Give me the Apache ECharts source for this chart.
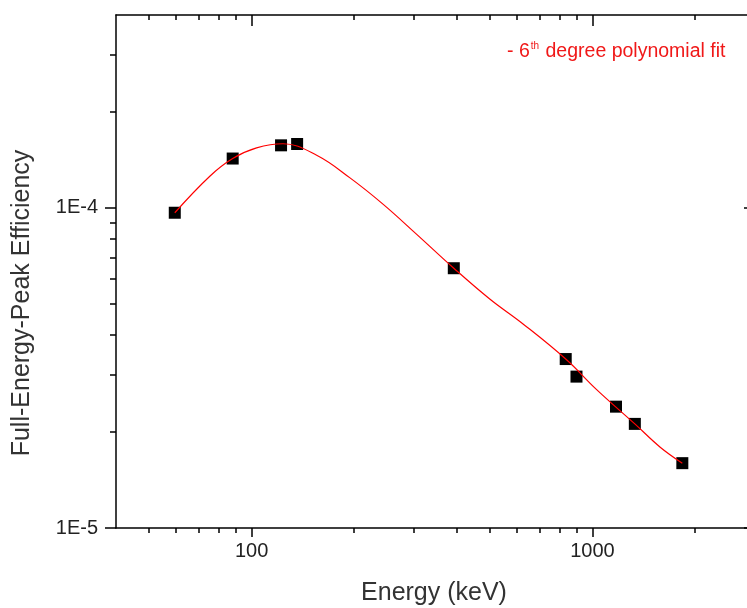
<!DOCTYPE html>
<html>
<head>
<meta charset="utf-8">
<script src="https://cdn.jsdelivr.net/npm/echarts@6/dist/echarts.min.js"></script>
<style>
  html, body { margin: 0; padding: 0; background: #fff; }
  #chart { width: 747px; height: 608px; }
</style>
</head>
<body>
<div id="chart"></div>
<script>
// measured points: gamma energy (keV) and full-energy-peak efficiency
const energies = [59.5, 88, 122, 136, 392, 835, 898, 1173, 1332, 1836];
const efficiencies = [9.65e-5, 1.425e-4, 1.567e-4, 1.582e-4, 6.475e-5, 3.37e-5, 2.97e-5, 2.393e-5, 2.114e-5, 1.594e-5];

// 6th degree polynomial fit
const fitEnergies = [59.5, 75.4, 88, 103.4, 123.6, 155.2, 194.4, 243.4, 305.1, 392, 500.8, 627.2, 835, 1029, 1332, 1581, 1836];
const fitEff = [9.65e-5, 1.255e-4, 1.425e-4, 1.538e-4, 1.585e-4, 1.459e-4, 1.240e-4, 1.025e-4, 8.26e-5, 6.475e-5,
  5.18e-5, 4.33e-5, 3.37e-5, 2.705e-5, 2.114e-5, 1.788e-5, 1.594e-5];

// tick values
const xMajor = [100, 1000];
const xMinor = [50, 60, 70, 80, 90, 200, 300, 400, 500, 600, 700, 800, 900, 2000];
const yMajor = [1e-5, 1e-4];
const yMinor = [2e-5, 3e-5, 4e-5, 5e-5, 6e-5, 7e-5, 8e-5, 9e-5, 2e-4, 3e-4];

const FONT = '"Liberation Sans", Arial, sans-serif';
const xRange = { min: 40, max: 3000 };
const yRange = { min: 1e-5, max: 4e-4 };

// one log axis; major and minor ticks live on separate overlapping axes
const logAxis = (range, position, ticks, len, inside, showLine, label) => ({
  type: 'log',
  logBase: 10,
  position: position,
  min: range.min,
  max: range.max,
  axisLine: { show: showLine, lineStyle: { color: '#000', width: 1.5 } },
  axisTick: { show: true, inside: inside, length: len, customValues: ticks, lineStyle: { color: '#000', width: 1.5 } },
  axisLabel: label || { show: false },
  splitLine: { show: false },
  minorTick: { show: false }
});

const chart = echarts.init(document.getElementById('chart'));

const option = {
  backgroundColor: '#fff',
  animation: false,
  grid: { left: 116, right: -8, top: 15, bottom: 80, outerBoundsMode: 'none' },
  xAxis: [
    logAxis(xRange, 'bottom', xMajor, 9, false, true, {
      customValues: xMajor, margin: 13, fontSize: 20, color: '#222', fontFamily: FONT,
      formatter: v => String(Math.round(v))
    }),
    logAxis(xRange, 'bottom', xMinor, 5, false, false),
    logAxis(xRange, 'top', xMajor, 11, true, true),
    logAxis(xRange, 'top', xMinor, 5, true, false)
  ],
  yAxis: [
    logAxis(yRange, 'left', yMajor, 11, false, true, {
      customValues: yMajor, margin: 18, fontSize: 20, color: '#222', fontFamily: FONT,
      formatter: v => '1E' + Math.round(Math.log10(v))
    }),
    logAxis(yRange, 'left', yMinor, 6, false, false),
    logAxis(yRange, 'right', yMajor, 11, true, false),
    logAxis(yRange, 'right', yMinor, 6, true, false)
  ],
  graphic: [
    {
      type: 'text', x: 22, y: 303, rotation: Math.PI / 2,
      style: { text: 'Full-Energy-Peak Efficiency', font: '25px ' + FONT, fill: '#333', align: 'center', verticalAlign: 'middle' }
    },
    {
      type: 'text', x: 434, y: 593,
      style: { text: 'Energy (keV)', font: '25px ' + FONT, fill: '#333', align: 'center', verticalAlign: 'middle' }
    },
    {
      type: 'text', x: 507, y: 52,
      style: {
        text: '- 6{sup|th} degree polynomial fit',
        font: '19.5px ' + FONT, fill: '#f01818', align: 'left', verticalAlign: 'middle',
        rich: { sup: { fontSize: 10, fontFamily: FONT, fill: '#f01818', padding: [0, 1, 11, 1] } }
      }
    }
  ],
  series: [
    {
      name: 'Measured',
      type: 'scatter',
      symbol: 'rect',
      symbolSize: 12,
      itemStyle: { color: '#000', opacity: 1 },
      data: energies.map((e, i) => [e, efficiencies[i]])
    },
    {
      name: 'Fit',
      type: 'line',
      smooth: 0.4,
      showSymbol: false,
      lineStyle: { color: '#ff0000', width: 1.2 },
      data: fitEnergies.map((e, i) => [e, fitEff[i]])
    }
  ]
};

chart.setOption(option);
</script>
</body>
</html>
